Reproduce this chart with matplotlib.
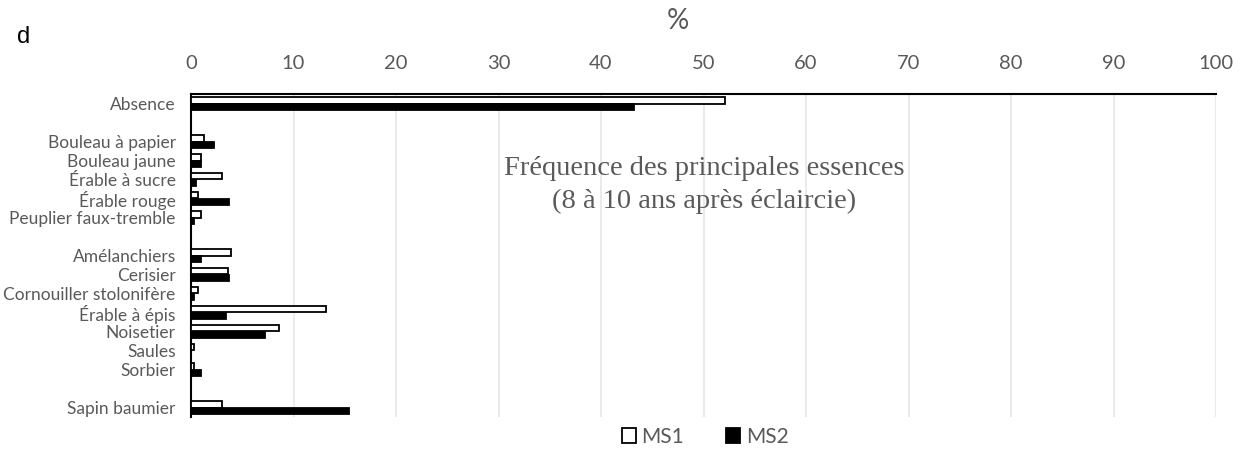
import matplotlib.pyplot as plt
import numpy as np

# categories top to bottom ("" = empty spacer rows)
categories = ["Absence", "",
              "Bouleau à papier", "Bouleau jaune", "Érable à sucre", "Érable rouge",
              "Peuplier faux-tremble", "",
              "Amélanchiers", "Cerisier", "Cornouiller stolonifère", "Érable à épis",
              "Noisetier", "Saules", "Sorbier", "",
              "Sapin baumier"]
ms1 = [52.1, 0, 1.3, 1.0, 3.0, 0.7, 1.0, 0, 3.9, 3.6, 0.7, 13.2, 8.6, 0.3, 0.3, 0, 3.0]
ms2 = [43.2, 0, 2.2, 1.0, 0.5, 3.7, 0.3, 0, 1.0, 3.7, 0.3, 3.4, 7.2, 0.0, 1.0, 0, 15.4]
xticks = list(range(0, 101, 10))

gris = "#595959"
fig = plt.figure(figsize=(12.49, 4.5), dpi=100)
ax = fig.add_axes([191/1249, 1 - 417/450, (1216 - 191)/1249, (417 - 94)/450])

y = np.arange(len(categories))
h = 0.32
ax.barh(y - h/2, ms1, height=h, color="white", edgecolor="black", linewidth=1.3, label="MS1", zorder=3)
ax.barh(y + h/2, ms2, height=h, color="black", edgecolor="black", linewidth=1.3, label="MS2", zorder=3)

ax.set_ylim(len(categories) - 0.5, -0.5)
ax.set_xlim(0, 100)
ax.set_yticks(y)
ax.set_yticklabels(categories, fontsize=12.5, color=gris, family="Lato")
ax.tick_params(axis="y", length=0, pad=11)

ax.xaxis.tick_top()
ax.set_xticks(xticks)
ax.set_xticklabels([str(v) for v in xticks], fontsize=14.5, color=gris, family="Lato")
ax.tick_params(axis="x", length=0, pad=16)
ax.grid(axis="x", color="#E6E6E6", linewidth=1.2, zorder=0)

for s in ["right", "bottom"]:
    ax.spines[s].set_visible(False)
ax.spines["top"].set_linewidth(1.5)
ax.spines["left"].set_linewidth(1.5)

fig.text(678/1249, 1 - 21/450, "%", ha="center", va="center", fontsize=20, color=gris, family="Lato")
fig.text(17/1249, 1 - 37/450, "d", ha="left", va="center", fontsize=17, color="black", family="Liberation Sans")
fig.text(704/1249, 1 - 185/450, "Fréquence des principales essences\n(8 à 10 ans après éclaircie)",
         ha="center", va="center", fontsize=20.5, color=gris, family="Liberation Serif", linespacing=1.4)

leg = fig.legend(loc="center", bbox_to_anchor=(705/1249, 1 - 437/450), ncol=2, frameon=False,
                 fontsize=15, handlelength=0.7, handleheight=0.7, handletextpad=0.25, columnspacing=2.0)
for t in leg.get_texts():
    t.set_color(gris)
    t.set_family("Lato")

fig.savefig("out.png", dpi=100)
